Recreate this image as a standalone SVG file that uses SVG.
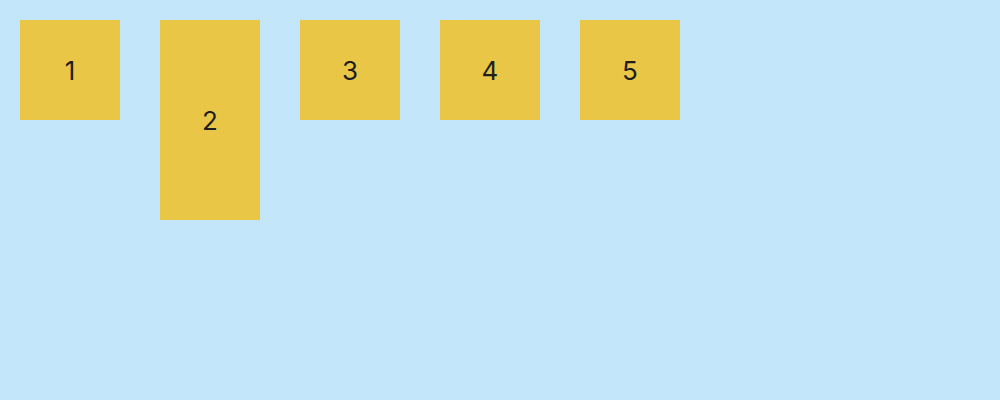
<svg xmlns="http://www.w3.org/2000/svg" width="1000" height="400" viewBox="0 0 1000 400">
<style>
.box{fill:#E9C646}
.lbl{font-family:Inter,"Noto Sans",sans-serif;font-size:26px;fill:#1E1E1E;text-anchor:middle;dominant-baseline:central}
</style>
<rect width="1000" height="400" fill="#C4E6FB"/>
<g id="node1"><rect class="box" x="20" y="20" width="100" height="100"/><text class="lbl" x="70" y="70">1</text></g>
<g id="node2"><rect class="box" x="160" y="20" width="100" height="200"/><text class="lbl" x="210" y="120">2</text></g>
<g id="node3"><rect class="box" x="300" y="20" width="100" height="100"/><text class="lbl" x="350" y="70">3</text></g>
<g id="node4"><rect class="box" x="440" y="20" width="100" height="100"/><text class="lbl" x="490" y="70">4</text></g>
<g id="node5"><rect class="box" x="580" y="20" width="100" height="100"/><text class="lbl" x="630" y="70">5</text></g>
<g id="connectors"></g>
</svg>
